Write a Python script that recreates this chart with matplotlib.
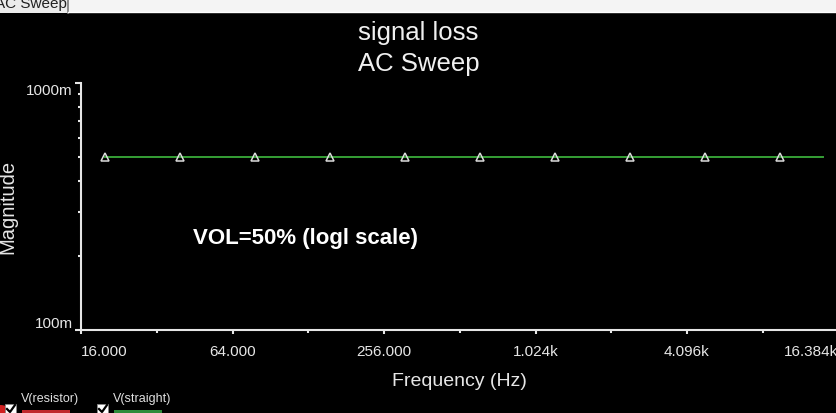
import numpy as np
from matplotlib import pyplot as plt
from matplotlib.patches import Rectangle, Circle
from matplotlib.lines import Line2D
from matplotlib.ticker import FixedLocator, FixedFormatter, NullFormatter

# data
freq = [20, 39.6, 78.6, 156, 310, 616, 1224, 2432, 4830, 9590, 14200]
mag_straight = [0.5, 0.5, 0.5, 0.5, 0.5, 0.5, 0.5, 0.5, 0.5, 0.5, 0.5]
marker_idx = [0, 1, 2, 3, 4, 5, 6, 7, 8, 9]

x_ticks = [16, 64, 256, 1024, 4096, 16384]
x_tick_labels = ['16.000', '64.000', '256.000', '1.024k', '4.096k', '16.384k']
x_minor = [32, 128, 512, 2048, 8192]
y_ticks = [0.1, 1.0]
y_tick_labels = ['100m', '1000m']
y_minor = [0.2, 0.3, 0.4, 0.5, 0.6, 0.7, 0.8, 0.9]

W, H = 837, 414
plt.rcParams['font.family'] = ['Liberation Sans', 'DejaVu Sans']


def px(x):
    return x / W


def py(y):
    return 1 - y / H


fig = plt.figure(figsize=(W / 100, H / 100), dpi=100, facecolor='black')

# tab bar on top
fig.patches.append(Rectangle((0, py(14)), 1, 14 / H, transform=fig.transFigure,
                             facecolor='#f4f4f4', edgecolor='none'))
fig.patches.append(Rectangle((0, py(14)), px(68), 14 / H, transform=fig.transFigure,
                             facecolor='#ebebeb', edgecolor='none'))
fig.lines.append(Line2D([px(68), px(68)], [py(0), py(14)], transform=fig.transFigure,
                        color='#7a7a7a', lw=1.2))
fig.lines.append(Line2D([px(68), 1], [py(13), py(13)], transform=fig.transFigure,
                        color='#ffffff', lw=1))
fig.text(px(-5), py(8), 'AC Sweep', fontsize=11, color='#202020', va='baseline')

ax = fig.add_axes([px(81), 83 / H, 757.5 / W, 247 / H])
ax.set_facecolor('black')
ax.set_xscale('log')
ax.set_yscale('log')

ax.plot(freq, mag_straight, color='#36a036', lw=1.4, marker='^', markevery=marker_idx,
        ms=6, mfc='none', mec='#dcdcdc', mew=1.1)

ax.set_xlim(16, 16384)
ax.set_ylim(0.1, 1.0)

ax.xaxis.set_major_locator(FixedLocator(x_ticks))
ax.xaxis.set_major_formatter(FixedFormatter(x_tick_labels))
ax.xaxis.set_minor_locator(FixedLocator(x_minor))
ax.xaxis.set_minor_formatter(NullFormatter())
ax.yaxis.set_major_locator(FixedLocator(y_ticks))
ax.yaxis.set_major_formatter(FixedFormatter(y_tick_labels))
ax.yaxis.set_minor_locator(FixedLocator(y_minor))
ax.yaxis.set_minor_formatter(NullFormatter())

for s in ['top', 'right']:
    ax.spines[s].set_visible(False)
for s in ['left', 'bottom']:
    ax.spines[s].set_color('#e6e6e6')
    ax.spines[s].set_linewidth(1.5)

ax.tick_params(axis='x', which='major', colors='#e6e6e6', length=3, width=1.5,
               labelsize=11, pad=7, labelcolor='#e6e6e6')
ax.tick_params(axis='x', which='minor', colors='#e6e6e6', length=2, width=1.5)
ax.tick_params(axis='y', which='major', colors='#e6e6e6', length=4, width=1.5,
               labelsize=11, pad=2, labelcolor='#e6e6e6')
ax.tick_params(axis='y', which='minor', colors='#e6e6e6', length=2, width=1.5)

xl = ax.get_xticklabels()
xl[0].set_ha('left')
xl[-1].set_ha('right')
yl = ax.get_yticklabels()
yl[0].set_va('bottom')
yl[1].set_va('top')

ax.set_xlabel('Frequency (Hz)', fontsize=14, color='#e6e6e6', labelpad=10)
fig.text(px(8), py(207), 'Magnitude', fontsize=14.5, color='#e6e6e6', rotation=90,
         ha='center', va='center')

fig.text(0.5, py(33), 'signal loss', fontsize=18.5, color='#f0f0f0', ha='center', va='center')
fig.text(0.5, py(64), 'AC Sweep', fontsize=18.5, color='#f0f0f0', ha='center', va='center')

ax.text(px(193), py(239), 'VOL=50% (logl scale)', transform=fig.transFigure,
        fontsize=16, fontweight='bold', color='white', va='center', ha='left')

# curve selector strip at the bottom
fig.patches.append(Circle((px(0), py(411)), 5 / H, transform=fig.transFigure,
                          facecolor='#d02020', edgecolor='none'))
for bx, name, col in [(5, 'V(resistor)', '#c0282d'), (97, 'V(straight)', '#2e8b3a')]:
    fig.patches.append(Rectangle((px(bx), py(415)), 11 / W, 10 / H, transform=fig.transFigure,
                                 facecolor='white', edgecolor='#888888', lw=0.6))
    fig.lines.append(Line2D([px(bx + 2), px(bx + 5), px(bx + 10)],
                            [py(410), py(413), py(406)], transform=fig.transFigure,
                            color='black', lw=1.6))
    fig.text(px(bx + 16), py(399), name, fontsize=9, color='#e0e0e0', va='center')
    fig.patches.append(Rectangle((px(bx + 17), py(415)), 48 / W, 4 / H, transform=fig.transFigure,
                                 facecolor=col, edgecolor='none'))

fig.savefig('out.png', dpi=100, facecolor='black')
